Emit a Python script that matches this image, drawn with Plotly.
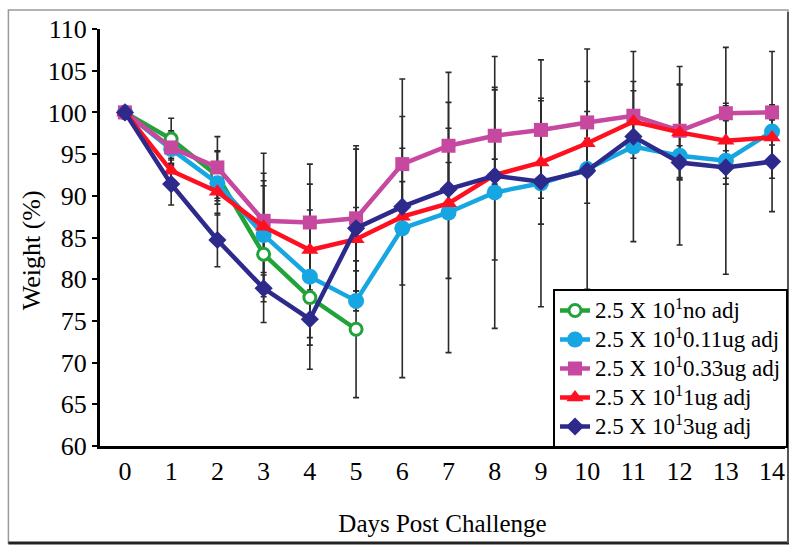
import plotly.graph_objects as go

days = list(range(15))
day_labels = [str(d) for d in days]

green_vals = [100, 96.8, 92.4, 83.0, 77.8, 74.0]
cyan_vals = [100, 95.6, 91.5, 85.3, 80.3, 77.4, 86.1, 88.0, 90.4, 91.5, 93.2, 95.9, 94.8, 94.2, 97.7]
magenta_vals = [100, 95.8, 93.4, 87.0, 86.8, 87.3, 93.8, 96.0, 97.2, 97.9, 98.8, 99.6, 97.8, 99.9, 100.0]
red_vals = [100, 93.0, 90.5, 86.3, 83.5, 84.8, 87.5, 89.1, 92.5, 94.0, 96.3, 98.9, 97.6, 96.6, 97.0]
navy_vals = [100, 91.4, 84.7, 78.9, 75.2, 86.1, 88.7, 90.8, 92.4, 91.7, 93.0, 97.1, 94.0, 93.4, 94.1]

green_sd = [0, 2.5, 3.0, 8.2, 5.7, 8.2]
cyan_sd = [0, 2.0, 3.8, 7.4, 11.1, 1.2, 17.9, 16.8, 16.3, 14.8, 14.4, 11.4, 10.7, 13.6, 9.6]
magenta_sd = [0, 2.0, 3.7, 8.1, 7.0, 8.7, 5.7, 5.2, 5.8, 3.8, 4.9, 4.1, 5.6, 0.9, 0.9]
red_sd = [0, 1.5, 1.5, 5.5, 4.8, 3.8, 8.2, 9.0, 10.2, 7.4, 3.8, 3.7, 5.7, 4.5, 3.0]
navy_sd = [0, 2.5, 3.2, 1.6, 2.2, 9.5, 3.0, 3.2, 2.0, 2.0, 3.9, 2.6, 2.0, 2.0, 2.0]

y_ticks = [60, 65, 70, 75, 80, 85, 90, 95, 100, 105, 110]

names = [
    "2.5 X 10<sup>1</sup>no adj",
    "2.5 X 10<sup>1</sup>0.11ug adj",
    "2.5 X 10<sup>1</sup>0.33ug adj",
    "2.5 X 10<sup>1</sup>1ug adj",
    "2.5 X 10<sup>1</sup>3ug adj",
]
colors = ["#21A33A", "#16A6E2", "#C6489F", "#FF1020", "#2D2A8C"]
symbols = ["circle-open", "circle", "square", "triangle-up", "diamond"]
sizes = [12, 16, 14, 15, 14]
series = [
    (green_vals, green_sd),
    (cyan_vals, cyan_sd),
    (magenta_vals, magenta_sd),
    (red_vals, red_sd),
    (navy_vals, navy_sd),
]

FONT = "Liberation Serif, Times New Roman, serif"

fig = go.Figure()

# error bars first (behind lines)
for (vals, sd) in series:
    fig.add_trace(go.Scatter(
        x=days[:len(vals)], y=vals, mode="markers",
        marker=dict(size=1, color="rgba(0,0,0,0)"),
        error_y=dict(type="data", array=sd, visible=True, color="#2a2a2a",
                     thickness=1.6, width=3),
        showlegend=False, hoverinfo="skip",
    ))

for i, (vals, sd) in enumerate(series):
    if symbols[i] == "circle-open":
        marker = dict(symbol="circle", size=sizes[i], color="white",
                      line=dict(color=colors[i], width=3))
    else:
        marker = dict(symbol=symbols[i], size=sizes[i], color=colors[i],
                      line=dict(color=colors[i], width=0))
    fig.add_trace(go.Scatter(
        x=days[:len(vals)], y=vals, mode="lines+markers",
        name='<span style="font-size:23px">' + names[i] + "</span>",
        line=dict(color=colors[i], width=4.5), marker=marker,
    ))

L, R, T, B = 100, 12, 29, 106
W, H = 800, 552
pw, ph = W - L - R, H - T - B

def px(x):
    return (x - L) / pw

def py(y):
    return (H - B - y) / ph

shapes = [
    dict(type="rect", xref="paper", yref="paper",
         x0=px(8), x1=px(791), y0=py(543), y1=py(10),
         line=dict(color="#9a9a9a", width=1.5), layer="below"),
    dict(type="line", xref="paper", yref="paper",
         x0=px(8), x1=px(792), y0=py(543), y1=py(543),
         line=dict(color="#222", width=3)),
    dict(type="line", xref="paper", yref="paper",
         x0=px(791), x1=px(791), y0=py(543), y1=py(12),
         line=dict(color="#555", width=2)),
]

annotations = [
    dict(text="Weight (%)", textangle=-90, xref="paper", yref="paper",
         x=px(31), y=py(250), xanchor="center", yanchor="middle",
         showarrow=False, font=dict(size=26, family=FONT, color="black")),
]

fig.update_layout(
    width=W, height=H,
    margin=dict(l=L, r=R, t=T, b=B),
    paper_bgcolor="white", plot_bgcolor="white",
    font=dict(family=FONT, color="black", size=22),
    shapes=shapes,
    annotations=annotations,
    xaxis=dict(
        range=[-0.54, 14.28], tickvals=days, ticktext=day_labels,
        showline=True, linecolor="black", linewidth=3,
        showgrid=False, zeroline=False, ticks="",
        tickfont=dict(size=26, family=FONT),
        title=dict(text="Days Post Challenge", font=dict(size=25, family=FONT), standoff=30),
    ),
    yaxis=dict(
        range=[60, 110], tickvals=y_ticks,
        showline=True, linecolor="black", linewidth=3,
        showgrid=False, zeroline=False, ticks="outside", ticklen=5, tickwidth=2,
        tickcolor="black",
        tickfont=dict(size=26, family=FONT),
    ),
    legend=dict(
        x=px(555), y=py(289), xanchor="left", yanchor="top",
        bordercolor="black", borderwidth=2, bgcolor="white",
        font=dict(size=20, family=FONT),
        itemwidth=30, tracegroupgap=0,
    ),
    showlegend=True,
)

fig.write_html("out.html", config={"displayModeBar": False},
               post_script="document.body.style.margin='0';")
